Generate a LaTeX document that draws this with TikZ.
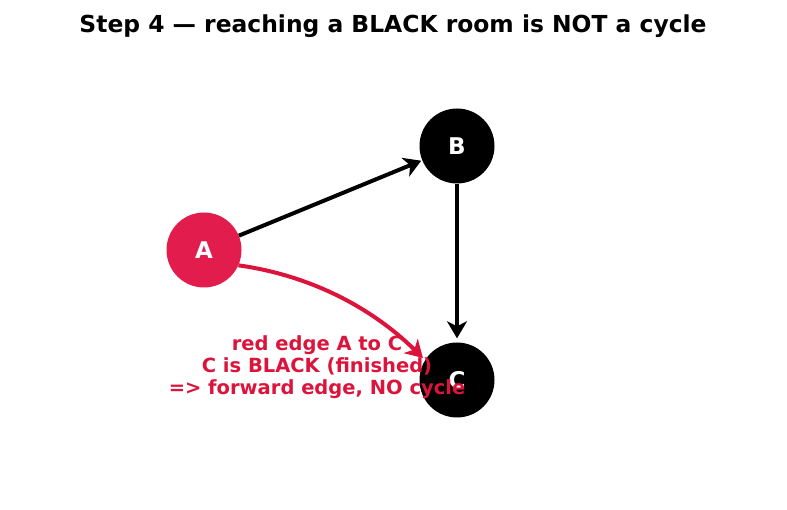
\documentclass[tikz,border=0pt]{standalone}
\usepackage{fontspec}
\setmainfont{DejaVu Sans}
\usetikzlibrary{arrows.meta}
\definecolor{crim}{RGB}{220,20,60}
\definecolor{crimfill}{RGB}{226,28,76}
\tikzset{
  room/.style={circle, minimum size=75pt, inner sep=0pt, text=white, font=\fontsize{23}{23}\selectfont\bfseries},
  edge/.style={line width=4pt, -{Stealth[length=17pt,width=20pt,inset=5pt]}},
}
\begin{document}
\begin{tikzpicture}[x=1pt,y=-1pt]
\useasboundingbox (0,0) rectangle (787,510);
\node (title) at (393,26.5) {\fontsize{23.4}{24}\selectfont\bfseries Step 4 — reaching a BLACK room is NOT a cycle};
\node[room, fill=crimfill] (A) at (204,250) {A};
\node[room, fill=black] (B) at (457,146) {B};
\node[room, fill=black] (C) at (457,380) {C};
\coordinate (c1) at (308,275);
\coordinate (c2) at (370,306);
\draw[edge, black, shorten >=1pt] (A) -- (B);
\draw[edge, black, shorten >=4pt] (B) -- (C);
\draw[edge, crim, shorten >=3pt] (A.-24) .. controls (c1) and (c2) .. (C.148);
\node[text=crim, align=center, font=\fontsize{19.5}{22}\selectfont\bfseries] (lbl) at (317,367) {red edge A to C\\C is BLACK (finished)\\=> forward edge, NO cycle};
\end{tikzpicture}
\end{document}
